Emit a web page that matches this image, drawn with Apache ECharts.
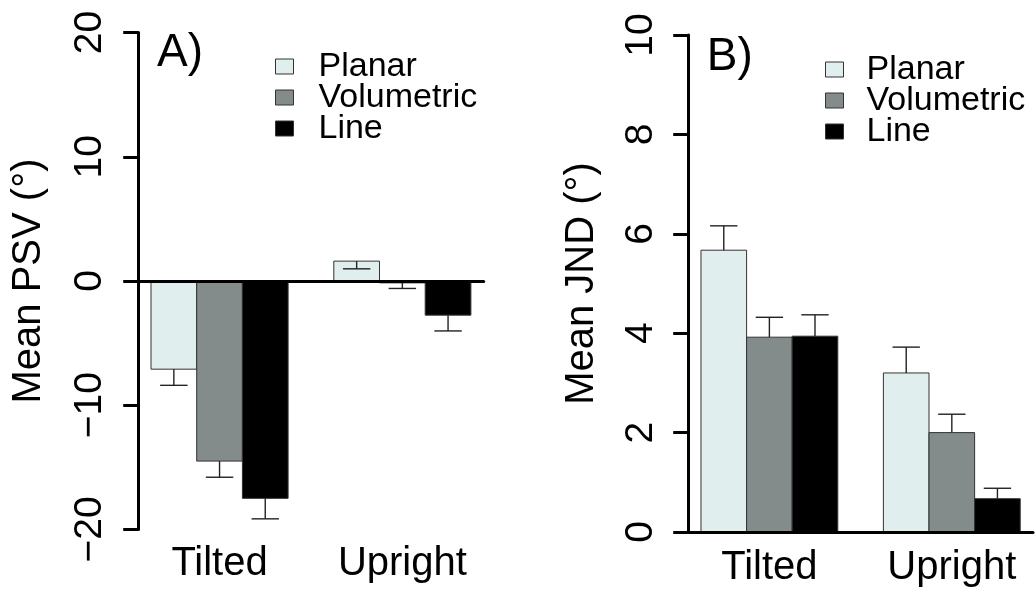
<!DOCTYPE html>
<html><head><meta charset="utf-8">
<script src="https://cdn.jsdelivr.net/npm/echarts@6/dist/echarts.min.js"></script>
<style>html,body{margin:0;padding:0;background:#fff}#c{width:1036px;height:590px}</style>
</head><body><div id="c"></div>
<script>
const categories = ['Tilted', 'Upright'];
const conditions = ['Planar', 'Volumetric', 'Line'];
const conditionColors = ['#e0eeee', '#838b8b', '#000000'];

// Panel A: Mean PSV (deg), error bars drawn as mean - SE
const psvPlanar = [-7.1, 1.6];
const psvVolumetric = [-14.5, -0.15];
const psvLine = [-17.5, -2.75];
const psvSePlanar = [1.3, 0.62];
const psvSeVolumetric = [1.3, 0.45];
const psvSeLine = [1.65, 1.27];
const psvTicks = [-20, -10, 0, 10, 20];

// Panel B: Mean JND (deg), error bars drawn as mean + SE
const jndPlanar = [5.67, 3.2];
const jndVolumetric = [3.92, 2.0];
const jndLine = [3.94, 0.67];
const jndSePlanar = [0.49, 0.52];
const jndSeVolumetric = [0.40, 0.37];
const jndSeLine = [0.43, 0.21];
const jndTicks = [0, 2, 4, 6, 8, 10];

const FONT = 'Liberation Sans';
const XMIN = 0.72, XMAX = 8.28;

function barCenter(g, s) { return 1.5 + g * 4 + s; }
function groupCenter(g) { return 2.5 + g * 4; }

function renderBar(params, api) {
  const cx = api.value(0), v = api.value(1);
  const a = api.coord([cx - 0.5, 0]);
  const b = api.coord([cx + 0.5, v]);
  return {
    type: 'rect',
    shape: { x: a[0], y: Math.min(a[1], b[1]), width: b[0] - a[0], height: Math.abs(b[1] - a[1]) },
    style: { fill: api.visual('color'), stroke: '#333', lineWidth: 1 }
  };
}
function renderErr(params, api) {
  const cx = api.value(0), v = api.value(1), e = api.value(2);
  const p0 = api.coord([cx, v]), p1 = api.coord([cx, e]);
  const c0 = api.coord([cx - 0.3, e]), c1 = api.coord([cx + 0.3, e]);
  const st = { stroke: '#222', lineWidth: 1.4 };
  return { type: 'group', children: [
    { type: 'line', shape: { x1: p0[0], y1: p0[1], x2: p1[0], y2: p1[1] }, style: st },
    { type: 'line', shape: { x1: c0[0], y1: c0[1], x2: c1[0], y2: c1[1] }, style: st }
  ]};
}

function panelSeries(gridIdx, xIdx, means, ses, sign) {
  const out = [];
  means.forEach((m, s) => {
    out.push({
      type: 'custom', name: conditions[s], xAxisIndex: xIdx, yAxisIndex: gridIdx,
      itemStyle: { color: conditionColors[s], borderColor: '#333', borderWidth: 1 },
      encode: { x: 0, y: 1 }, renderItem: renderBar, z: 2,
      data: m.map((v, g) => [barCenter(g, s), v])
    });
  });
  means.forEach((m, s) => {
    out.push({
      type: 'custom', name: conditions[s] + ' SE', xAxisIndex: xIdx, yAxisIndex: gridIdx,
      encode: { x: 0, y: 1 }, renderItem: renderErr, z: 3,
      data: m.map((v, g) => [barCenter(g, s), v, v + sign * ses[s][g]])
    });
  });
  return out;
}

const tickFmt = v => String(v).replace('-', '\u2212');

function yAxisDef(gridIdx, min, max, interval, ticks, name, nameGap, margin) {
  return {
    type: 'value', gridIndex: gridIdx, min: min, max: max, interval: interval,
    name: name, nameLocation: 'middle', nameRotate: 90, nameGap: nameGap, nameMoveOverlap: false,
    nameTextStyle: { fontFamily: FONT, fontSize: 40, color: '#000' },
    axisLine: { show: true, onZero: false, lineStyle: { color: '#000', width: 3 } },
    axisTick: { show: true, length: 15, inside: false, customValues: ticks, lineStyle: { color: '#000', width: 3 } },
    axisLabel: { rotate: 90, margin: margin, customValues: ticks, formatter: tickFmt, fontFamily: FONT, fontSize: 39, color: '#000' },
    splitLine: { show: false }
  };
}

function labelAxis(gridIdx, margin, showLine) {
  return {
    type: 'value', gridIndex: gridIdx, min: XMIN, max: XMAX, position: 'bottom',
    axisLine: { show: showLine, onZero: showLine, lineStyle: { color: '#000', width: 3 } },
    z: 10,
    axisTick: { show: false },
    splitLine: { show: false },
    axisLabel: {
      customValues: categories.map((c, g) => groupCenter(g)),
      formatter: v => categories[Math.round((v - 2.5) / 4)],
      margin: margin, fontFamily: FONT, fontSize: 40, color: '#000'
    }
  };
}

function legendDef(left, top, pad) {
  return {
    left: left, top: top, orient: 'vertical', padding: 0, itemGap: -3,
    itemWidth: 18, itemHeight: 15, icon: 'rect', data: conditions,
    selectedMode: false,
    itemStyle: { borderColor: '#333', borderWidth: 1 },
    textStyle: { fontFamily: FONT, fontSize: 34, color: '#000', lineHeight: 30, padding: [0, 0, 0, pad] }
  };
}

const chart = echarts.init(document.getElementById('c'), null, { renderer: 'canvas' });
chart.setOption({
  backgroundColor: '#fff',
  animation: false,
  grid: [
    { left: 138.2, top: 32.6, width: 345.5, height: 496.8, outerBoundsMode: 'none', containLabel: false },
    { left: 688.2, top: 35, width: 344.8, height: 497, outerBoundsMode: 'none', containLabel: false }
  ],
  xAxis: [
    labelAxis(0, 15, false),
    { type: 'value', gridIndex: 0, min: XMIN, max: XMAX, position: 'top', z: 10,
      axisLine: { show: true, onZero: true, lineStyle: { color: '#000', width: 3 } },
      axisTick: { show: false }, axisLabel: { show: false }, splitLine: { show: false } },
    labelAxis(1, 16, true)
  ],
  yAxis: [
    yAxisDef(0, -20, 20, 10, psvTicks, 'Mean PSV (°)', 89, 28),
    yAxisDef(1, 0, 10, 2, jndTicks, 'Mean JND (°)', 86, 27)
  ],
  legend: [legendDef(275, 49.5, 20), legendDef(825, 52.5, 18)],
  graphic: [
    { type: 'text', left: 157, top: 53.5 - 23, style: { text: 'A)', font: '46px "Liberation Sans"', fill: '#000' } },
    { type: 'text', left: 706.7, top: 57 - 23, style: { text: 'B)', font: '46px "Liberation Sans"', fill: '#000' } }
  ],
  series: [].concat(
    panelSeries(0, 0, [psvPlanar, psvVolumetric, psvLine], [psvSePlanar, psvSeVolumetric, psvSeLine], -1),
    panelSeries(1, 2, [jndPlanar, jndVolumetric, jndLine], [jndSePlanar, jndSeVolumetric, jndSeLine], 1)
  )
});
</script></body></html>
